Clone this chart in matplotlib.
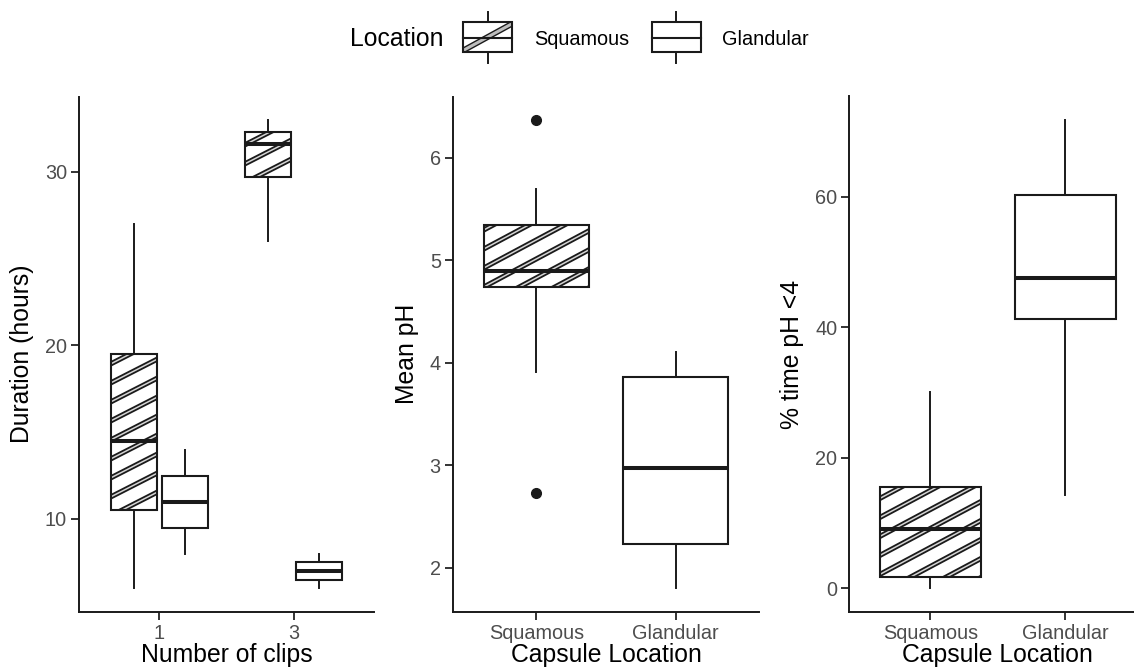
import numpy as np
import matplotlib.pyplot as plt
from matplotlib.collections import LineCollection
from matplotlib.patches import Rectangle
from matplotlib.transforms import IdentityTransform

plt.rcParams["font.family"] = ["Liberation Sans", "DejaVu Sans"]

# box stats: [whisker low, Q1, median, Q3, whisker high]
clip_labels = ["1", "3"]
location_labels = ["Squamous", "Glandular"]

duration_squamous = [[6.0, 10.5, 14.5, 19.5, 27.0], [26.0, 29.7, 31.6, 32.3, 33.0]]
duration_glandular = [[8.0, 9.5, 11.0, 12.5, 14.0], [6.0, 6.5, 7.0, 7.5, 7.95]]

mean_ph = [[3.91, 4.74, 4.90, 5.34, 5.70], [1.80, 2.23, 2.97, 3.86, 4.11]]
mean_ph_outliers = [[6.37, 2.73], []]

pct_time_below4 = [[0.0, 1.8, 9.1, 15.6, 30.1], [14.3, 41.3, 47.5, 60.3, 71.8]]

W, H = 1134, 669
DARK = "#1a1a1a"
TICK_COLOR = "#4d4d4d"
TICK_SIZE = 14.3
TITLE_SIZE = 17.8


def to_stats(rows, outliers=None):
    stats = []
    for i, (lo, q1, med, q3, hi) in enumerate(rows):
        fl = outliers[i] if outliers else []
        stats.append(dict(whislo=lo, q1=q1, med=med, q3=q3, whishi=hi, fliers=fl))
    return stats


def add_stripes(ax, box, angle=29, step=19):
    x0, y0, x1, y1 = box.get_window_extent().extents
    rise = (x1 - x0) * np.tan(np.radians(angle))
    starts = np.arange(y0 - rise - step, y1 + step, step)
    segs = [[(x0 - 2, c), (x1 + 2, c + rise)] for c in starts]
    for lw, color in ((3.7, DARK), (1.1, "#d4d4d4")):
        lc = LineCollection(segs, colors=color, linewidths=lw,
                            transform=IdentityTransform(), zorder=1.5)
        lc.set_clip_path(box)
        ax.add_collection(lc, autolim=False)


def draw_boxes(ax, stats, positions, width, striped):
    art = ax.bxp(
        stats,
        positions=positions,
        widths=width,
        patch_artist=True,
        showcaps=False,
        manage_ticks=False,
        boxprops=dict(facecolor="none", edgecolor=DARK, linewidth=1.5),
        whiskerprops=dict(color=DARK, linewidth=1.4),
        medianprops=dict(color=DARK, linewidth=2.9, solid_capstyle="butt"),
        flierprops=dict(marker="o", markerfacecolor=DARK, markeredgecolor=DARK,
                        markersize=7),
    )
    if striped:
        for box in art["boxes"]:
            add_stripes(ax, box)


def style_axis(ax, xlabel, ylabel, ticks, labels, lo, hi, x_hi=2.6):
    span = hi - lo
    ax.set_ylim(lo - 0.05 * span, hi + 0.05 * span)
    ax.set_xlim(0.4, x_hi)
    ax.set_xticks(ticks)
    ax.set_xticklabels(labels)
    for side in ("top", "right"):
        ax.spines[side].set_visible(False)
    for side in ("left", "bottom"):
        ax.spines[side].set_linewidth(1.4)
        ax.spines[side].set_color(DARK)
    ax.tick_params(length=5.6, width=1.4, color="#333333", labelcolor=TICK_COLOR,
                   labelsize=TICK_SIZE, pad=3)
    ax.set_xlabel(xlabel, fontsize=TITLE_SIZE, labelpad=0)
    ax.set_ylabel(ylabel, fontsize=TITLE_SIZE, labelpad=8)


def axes_px(fig, left, right, top=96.5, bottom=611.7):
    return fig.add_axes([left / W, 1 - bottom / H, (right - left) / W, (bottom - top) / H])


fig = plt.figure(figsize=(W / 100, H / 100), dpi=100)

# panel 1: duration by number of clips
ax1 = axes_px(fig, 79, 374)
pos = np.arange(1, len(clip_labels) + 1)
all_dur = np.array(duration_squamous + duration_glandular)
style_axis(ax1, "Number of clips", "Duration (hours)", pos, clip_labels,
           all_dur.min(), all_dur.max())
ax1.set_yticks([10, 20, 30])
draw_boxes(ax1, to_stats(duration_squamous), pos - 0.19, 0.345, True)
draw_boxes(ax1, to_stats(duration_glandular), pos + 0.19, 0.345, False)

# panel 2: mean pH
ax2 = axes_px(fig, 452.7, 759.3)
pos = np.arange(1, len(location_labels) + 1)
all_ph = np.array(sum(mean_ph, []) + sum(mean_ph_outliers, []))
style_axis(ax2, "Capsule Location", "Mean pH", pos, location_labels,
           all_ph.min(), all_ph.max())
ax2.set_yticks([2, 3, 4, 5, 6])
stats = to_stats(mean_ph, mean_ph_outliers)
draw_boxes(ax2, stats[:1], pos[:1], 0.75, True)
draw_boxes(ax2, stats[1:], pos[1:], 0.75, False)

# panel 3: % time pH < 4 (runs past the right edge, as in the source)
ax3 = axes_px(fig, 849.3, 1146)
all_pct = np.array(pct_time_below4)
style_axis(ax3, "Capsule Location", "% time pH <4", pos, location_labels,
           all_pct.min(), all_pct.max())
ax3.set_yticks([0, 20, 40, 60])
stats = to_stats(pct_time_below4)
draw_boxes(ax3, stats[:1], pos[:1], 0.75, True)
draw_boxes(ax3, stats[1:], pos[1:], 0.75, False)

# legend on top
fig.text(350 / W, 1 - 46 / H, "Location", fontsize=TITLE_SIZE, va="baseline")


def legend_key(left, striped):
    kax = axes_px(fig, left, left + 49, top=11.7, bottom=63.3)
    kax.set_axis_off()
    kax.set_xlim(0, 1)
    kax.set_ylim(0, 1)
    q1, med, q3 = 0.213, 0.485, 0.806
    rect = Rectangle((0, q1), 1, q3 - q1, facecolor="none", edgecolor=DARK,
                     linewidth=1.5, clip_on=False, zorder=3)
    kax.add_patch(rect)
    if striped:
        for lw, color in ((4.2, DARK), (2.2, "#bdbdbd")):
            band, = kax.plot([0, 1], [0.25, 0.77], color=color, linewidth=lw,
                             solid_capstyle="butt", zorder=2)
            band.set_clip_path(rect)
    kax.plot([0, 1], [med, med], color=DARK, linewidth=1.5, zorder=3, clip_on=False)
    kax.plot([0.5, 0.5], [0, q1], color=DARK, linewidth=1.4, clip_on=False)
    kax.plot([0.5, 0.5], [q3, 1], color=DARK, linewidth=1.4, clip_on=False)


legend_key(463.3, True)
fig.text(534.3 / W, 1 - 45 / H, location_labels[0], fontsize=TICK_SIZE, va="baseline")
legend_key(651.7, False)
fig.text(722.3 / W, 1 - 45 / H, location_labels[1], fontsize=TICK_SIZE, va="baseline")

fig.savefig("out.png", dpi=100, facecolor="w")
